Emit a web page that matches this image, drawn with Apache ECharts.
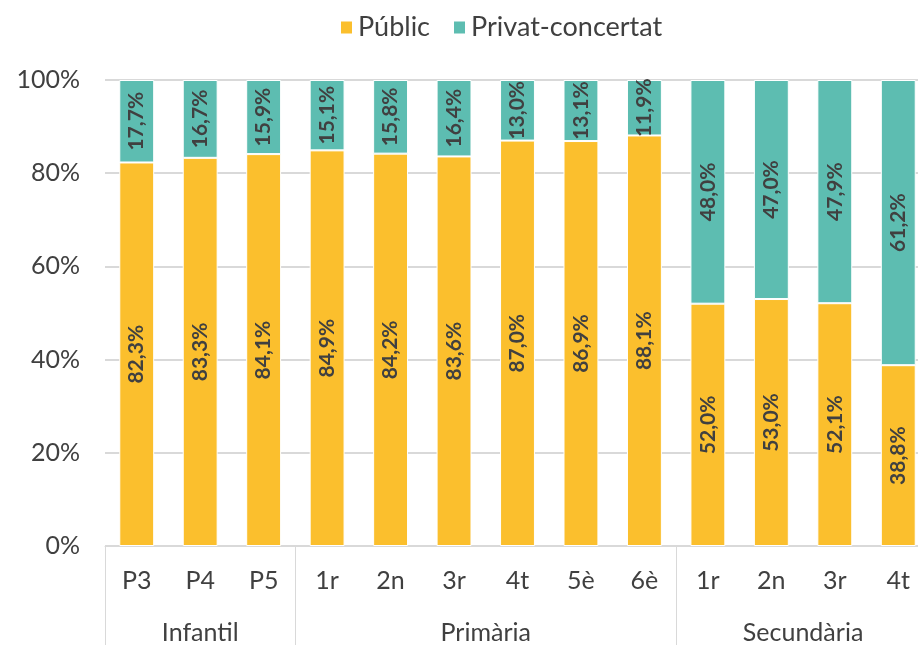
<!DOCTYPE html>
<html>
<head>
<meta charset="utf-8">
<script src="https://cdn.jsdelivr.net/npm/echarts@6/dist/echarts.min.js"></script>
<style>
  html, body { margin: 0; padding: 0; background: #fff; overflow: hidden; }
  #main { width: 933px; height: 645px; }
</style>
</head>
<body>
<div id="main"></div>
<script>
// categories (cursos) i grups
const cursos = ["P3", "P4", "P5", "1r", "2n", "3r", "4t", "5è", "6è", "1r", "2n", "3r", "4t"];
const grups = [
  { nom: "Infantil", centre: 1 },
  { nom: "Primària", centre: 5.5 },
  { nom: "Secundària", centre: 10.5 }
];
const limitsGrups = [0, 3, 9];

// percentatges
const publicVals = [82.3, 83.3, 84.1, 84.9, 84.2, 83.6, 87.0, 86.9, 88.1, 52.0, 53.0, 52.1, 38.8];
const privatVals = [17.7, 16.7, 15.9, 15.1, 15.8, 16.4, 13.0, 13.1, 11.9, 48.0, 47.0, 47.9, 61.2];

const yTicks = [0, 20, 40, 60, 80, 100];

const FONT = "Lato";
const groupLabels = {};
grups.forEach(g => { groupLabels[g.centre] = g.nom; });

function pct(v) {
  return v.toFixed(1).replace(".", ",") + "%";
}

function barLabel() {
  return {
    show: true,
    position: "inside",
    rotate: 90,
    fontFamily: FONT,
    fontWeight: "bold",
    fontSize: 21,
    color: "#404040",
    formatter: p => pct(p.value)
  };
}

const chart = echarts.init(document.getElementById("main"));
chart.setOption({
  animation: false,
  textStyle: { fontFamily: FONT },
  legend: {
    top: 9,
    left: 334,
    itemWidth: 13,
    itemHeight: 14,
    itemGap: 22,
    icon: "rect",
    textStyle: { fontFamily: FONT, fontSize: 27, color: "#404040" },
    data: ["Públic", "Privat-concertat"]
  },
  grid: { left: 105, right: 0, top: 80, bottom: 99, containLabel: false },
  xAxis: [
    {
      type: "category",
      data: cursos,
      axisLine: { lineStyle: { color: "#d9d9d9", width: 1 } },
      axisTick: {
        show: true,
        length: 100,
        interval: i => limitsGrups.indexOf(i) >= 0,
        lineStyle: { color: "#d9d9d9", width: 1 }
      },
      axisLabel: { fontFamily: FONT, fontSize: 25, color: "#404040", margin: 22 }
    },
    {
      type: "value",
      position: "bottom",
      min: -0.5,
      max: 12.5,
      interval: 0.5,
      axisLine: { show: false },
      axisTick: { show: false },
      splitLine: { show: false },
      axisLabel: {
        fontFamily: FONT,
        fontSize: 25,
        color: "#404040",
        margin: 74,
        showMinLabel: true,
        showMaxLabel: true,
        formatter: v => groupLabels[v] || ""
      }
    }
  ],
  yAxis: {
    type: "value",
    min: 0,
    max: 100,
    interval: 20,
    axisLine: { show: false },
    axisTick: { show: false },
    splitLine: { lineStyle: { color: "#d9d9d9", width: 2 } },
    axisLabel: {
      fontFamily: FONT,
      fontSize: 25,
      color: "#404040",
      margin: 25,
      formatter: v => (yTicks.indexOf(v) >= 0 ? v + "%" : "")
    }
  },
  series: [
    {
      name: "Públic",
      type: "bar",
      stack: "total",
      barCategoryGap: "45%",
      data: publicVals,
      itemStyle: { color: "#fbbf2d", borderColor: "#fff", borderWidth: 1 },
      label: barLabel()
    },
    {
      name: "Privat-concertat",
      type: "bar",
      stack: "total",
      barCategoryGap: "45%",
      data: privatVals,
      itemStyle: { color: "#5dbdb1", borderColor: "#fff", borderWidth: 1 },
      label: barLabel()
    }
  ]
});
</script>
</body>
</html>
